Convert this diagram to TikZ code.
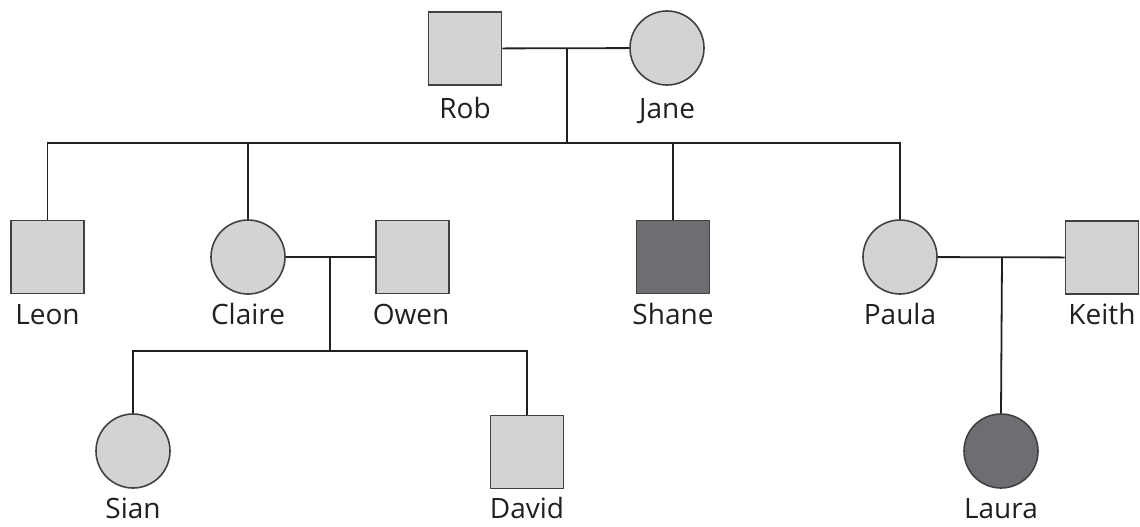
\documentclass[tikz,border=0pt]{standalone}
\usepackage{fontspec}
\newfontfamily\labfont{Open Sans}
\definecolor{lightfill}{HTML}{D1D3D4}
\definecolor{darkfill}{HTML}{6D6E71}
\definecolor{edge}{HTML}{414042}
\definecolor{linec}{HTML}{231F20}
\tikzset{
  male/.style={rectangle, draw=edge, line width=1.6pt, fill=lightfill, minimum size=73pt, inner sep=0pt},
  female/.style={circle, draw=edge, line width=1.6pt, fill=lightfill, minimum size=74pt, inner sep=0pt},
  affected/.style={fill=darkfill},
  lab/.style={font=\labfont\fontsize{28}{32}\selectfont, text=linec, anchor=base, inner sep=0pt},
  link/.style={draw=linec, line width=1.8pt}
}
\begin{document}
\begin{tikzpicture}[x=1pt,y=-1pt]
\useasboundingbox (0,0) rectangle (1140,527);
% generation I
\node[male] (rob) at (465,48.5) {};
\node[female] (jane) at (667,48) {};
% generation II
\node[male] (leon) at (47.5,257) {};
\node[female] (claire) at (248,257) {};
\node[male] (owen) at (412.5,257) {};
\node[male,affected] (shane) at (673,257) {};
\node[female] (paula) at (900,257) {};
\node[male] (keith) at (1102,257.5) {};
% generation III
\node[female] (sian) at (133,451) {};
\node[male] (david) at (527,452) {};
\node[female,affected] (laura) at (1001,451) {};
% labels
\node[lab] (lrob) at (465,118) {Rob};
\node[lab] (ljane) at (667,118) {Jane};
\node[lab] (lleon) at (47.5,324) {Leon};
\node[lab] (lclaire) at (248,324) {Claire};
\node[lab] (lowen) at (411,324) {Owen};
\node[lab] (lshane) at (673,324) {Shane};
\node[lab] (lpaula) at (900,324) {Paula};
\node[lab] (lkeith) at (1102,324) {Keith};
\node[lab] (lsian) at (133,518) {Sian};
\node[lab] (ldavid) at (527,518) {David};
\node[lab] (llaura) at (1001,518) {Laura};
% helper coordinates
\coordinate (m1) at (567,48);
\coordinate (s1) at (567,143);
\coordinate (m2) at (330,257);
\coordinate (s2) at (330,351);
\coordinate (m3) at (1002,257);
% connectors
\draw[link] (rob) -- (jane);
\draw[link] (m1) -- (s1);
\draw[link] (leon.north) |- (s1) -| (paula.north);
\draw[link] (claire.north) -- (claire.north |- s1);
\draw[link] (shane.north) -- (shane.north |- s1);
\draw[link] (claire) -- (owen);
\draw[link] (m2) -- (s2);
\draw[link] (sian.north) |- (s2) -| (david.north);
\draw[link] (paula) -- (keith);
\draw[link] (m3) -- (laura.north);
\end{tikzpicture}
\end{document}
